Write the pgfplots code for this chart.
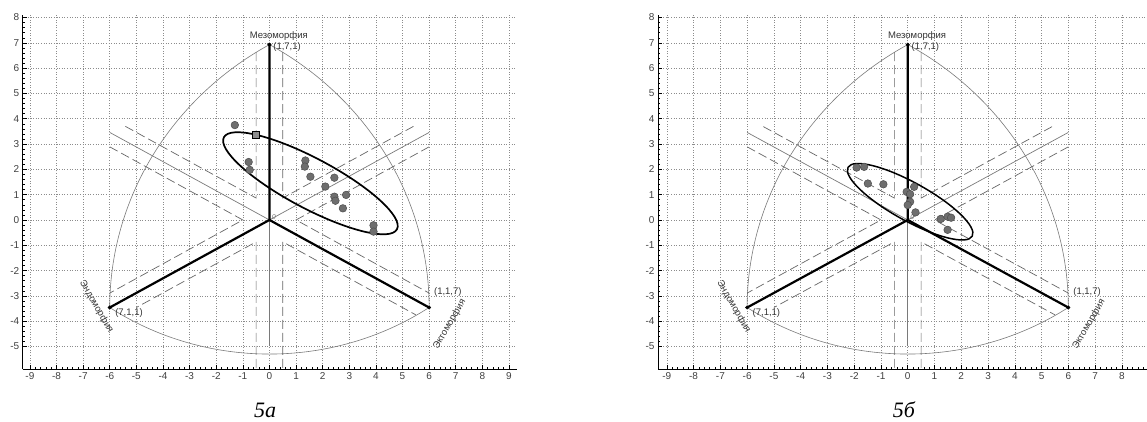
\documentclass[border=0pt]{standalone}
\usepackage{fontspec}
\setmainfont{Liberation Sans}
\newfontfamily\capfont{Liberation Serif}
\usepackage{pgfplots}
\pgfplotsset{compat=1.18}

\definecolor{cThin}{HTML}{7A7A7A}
\definecolor{cDash}{HTML}{666666}
\definecolor{cDot}{HTML}{6E6E6E}

\pgfplotsset{
  soma/.style={
    scale only axis, anchor=south west, clip=false,
    height=354pt, ymin=-5.89, ymax=8.10,
    axis x line*=bottom, axis y line*=left,
    axis line style={black, line width=0.8pt, -},
    xtick={-9,...,9}, ytick={-5,...,8}, minor tick num=4,
    tick align=inside, major tick length=4pt, minor tick length=2pt,
    every tick/.style={black, line width=0.5pt},
    grid=major, major grid style={black!45, line width=0.5pt, dash pattern=on 1pt off 1.6pt},
    tick label style={font=\fontsize{10}{12}\selectfont, text=black!75},
    /pgf/number format/assume math mode=true,
  },
}
\tikzset{lbl/.style={font=\fontsize{9.5}{11}\selectfont, text=black!80, inner sep=0pt}}

% common somatochart frame (drawn in axis units)
\newcommand{\somaframe}{%
  % Reuleaux-like boundary
  \draw[cThin, line width=0.6pt] (axis cs:0,6.93) arc[start angle=120, end angle=180, radius=12];
  \draw[cThin, line width=0.6pt] (axis cs:6,-3.46) arc[start angle=0, end angle=60, radius=12];
  \draw[cThin, line width=0.6pt] (axis cs:-6,-3.46) arc[start angle=235.9, end angle=304.1, radius=10.7];
  % thin rays opposite to the main axes
  \addplot[cThin, line width=0.7pt] coordinates {(0,0) (0,-5)};
  \addplot[cThin, line width=0.7pt] coordinates {(0,0) (6,3.46)};
  \addplot[cThin, line width=0.7pt] coordinates {(0,0) (-6,3.46)};
  % dashed bands
  \addplot[cDash, line width=0.7pt, dash pattern=on 9pt off 4pt] coordinates {(-0.5,6.63) (-0.5,0.866) (-5.5,3.75)};
  \addplot[cDash, line width=0.7pt, dash pattern=on 9pt off 4pt] coordinates {(0.5,6.63) (0.5,0.866) (5.5,3.75)};
  \addplot[cDash, line width=0.7pt, dash pattern=on 9pt off 4pt] coordinates {(-6,2.89) (-1,0) (-6,-2.89)};
  \addplot[cDash, line width=0.7pt, dash pattern=on 9pt off 4pt] coordinates {(6,2.89) (1,0) (6,-2.89)};
  \addplot[cDash, line width=0.7pt, dash pattern=on 9pt off 4pt] coordinates {(-0.5,-5.85) (-0.5,-0.866) (-5.0,-3.46)};
  \addplot[cDash, line width=0.7pt, dash pattern=on 9pt off 4pt] coordinates {(0.5,-5.85) (0.5,-0.866) (5.5,-3.75)};
  % main axes
  \addplot[black, line width=2.2pt] coordinates {(0,6.93) (0,0) (-6,-3.46)};
  \addplot[black, line width=2.2pt] coordinates {(0,0) (6,-3.46)};
  \addplot[only marks, mark=*, mark size=1.8pt, black] coordinates {(0,6.93) (-6,-3.46) (6,-3.46)};
  % labels
  \node[lbl] at (axis cs:0.35,7.27) {Мезоморфия};
  \node[lbl, anchor=west] at (axis cs:0.14,6.85) {(1,7,1)};
  \node[lbl, anchor=west] at (axis cs:-5.8,-3.69) {(7,1,1)};
  \node[lbl, anchor=west] at (axis cs:6.18,-2.83) {(1,1,7)};
  \node[lbl, rotate=-60] at (axis cs:-6.5,-3.43) {Эндоморфия};
  \node[lbl, rotate=60] at (axis cs:6.77,-4.12) {Эктоморфия};
  \node[font=\fontsize{7}{8}\selectfont\itshape, text=black!55, anchor=west, inner sep=1pt] at (axis cs:0.05,0.1) {0};
}

\begin{document}
\begin{tikzpicture}
\useasboundingbox (0,0) rectangle (1147pt,421pt);

% ---- 5a ----
\begin{axis}[soma, at={(22.7pt,52pt)}, width=494pt, xmin=-9.27, xmax=9.29]
\somaframe
\draw[black, line width=1.7pt, rotate around={-28:(axis cs:1.54,1.45)}]
  (axis cs:1.54,1.45) ellipse [x radius=98pt, y radius=25pt];
\addplot[only marks, mark=*, mark size=3.8pt, mark options={fill=cDot, draw=black!70, line width=0.5pt}]
  coordinates {(-1.30,3.75) (-0.78,2.29) (-0.74,1.98) (1.35,2.35) (1.33,2.11) (1.54,1.71)
    (2.44,1.67) (2.10,1.32) (2.44,0.92) (2.48,0.76) (2.88,0.99) (2.76,0.46) (3.91,-0.21) (3.91,-0.46)};
\addplot[only marks, mark=square*, mark size=3.5pt, mark options={fill=black!45, draw=black, line width=1pt}]
  coordinates {(-0.5,3.35)};
\end{axis}

% ---- 5б ----
\begin{axis}[soma, at={(658pt,52pt)}, width=489pt, xmin=-9.33, xmax=8.94]
\somaframe
\draw[black, line width=1.5pt, rotate around={-29:(axis cs:0.09,0.72)}]
  (axis cs:0.09,0.72) ellipse [x radius=71pt, y radius=19pt];
\addplot[only marks, mark=*, mark size=3.8pt, mark options={fill=cDot, draw=black!70, line width=0.5pt}]
  coordinates {(-1.91,2.07) (-1.63,2.10) (-1.49,1.44) (-0.91,1.41) (-0.04,1.11) (0.09,1.02)
    (0.24,1.31) (0.09,0.72) (0.0,0.59) (0.29,0.30) (1.23,0.04) (1.49,0.13) (1.62,0.09) (1.49,-0.39)};
\end{axis}

\node[font=\capfont\itshape\fontsize{22}{26}\selectfont] at (265pt,11pt) {5а};
\node[font=\capfont\itshape\fontsize{22}{26}\selectfont] at (904pt,11pt) {5б};
\end{tikzpicture}
\end{document}
